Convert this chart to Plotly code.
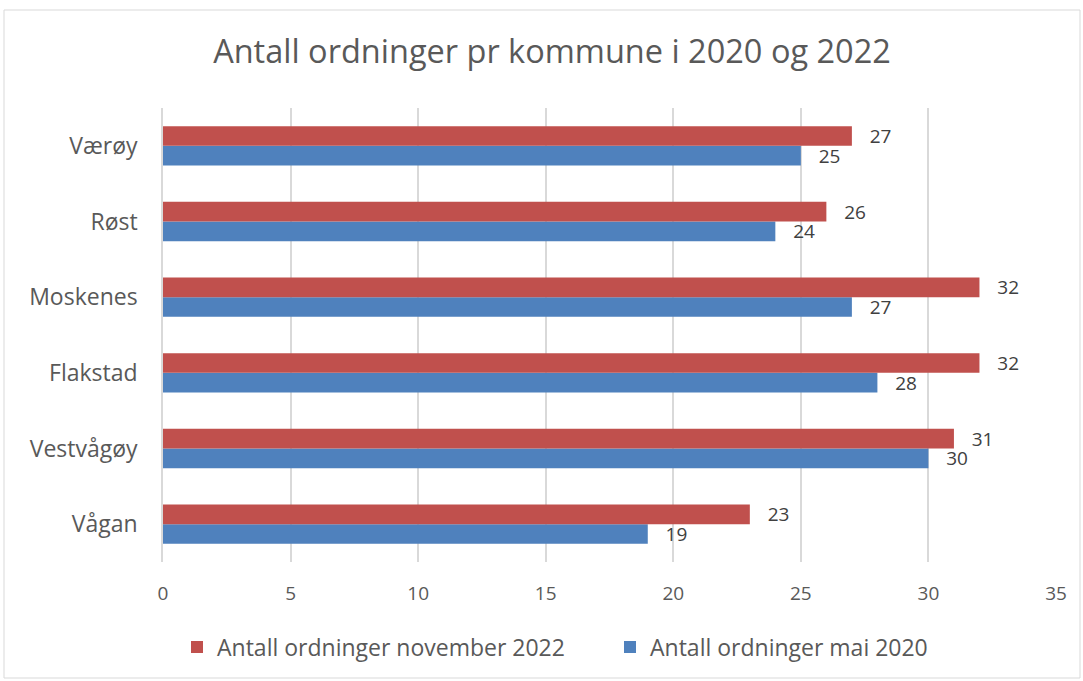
import plotly.graph_objects as go

categories = ["Vågan", "Vestvågøy", "Flakstad", "Moskenes", "Røst", "Værøy"]
mai_2020 = [19, 30, 28, 27, 24, 25]
nov_2022 = [23, 31, 32, 32, 26, 27]
series_names = ["Antall ordninger mai 2020", "Antall ordninger november 2022"]
x_ticks = [0, 5, 10, 15, 20, 25, 30, 35]

W, H = 1083, 681
L, R, T, B = 163, 27, 108, 119
pw, ph = W - L - R, H - T - B

font_family = "Open Sans, Noto Sans, sans-serif"
gray = "#595959"

fig = go.Figure()
for vals, name, color, rank in [(mai_2020, series_names[0], "#4F81BD", 2),
                                (nov_2022, series_names[1], "#C0504D", 1)]:
    fig.add_trace(go.Bar(
        y=categories, x=vals, orientation="h", name=name,
        marker=dict(color=color, line=dict(width=0)),
        texttemplate="\u00a0\u00a0\u00a0%{x}", textposition="outside",
        constraintext="none",
        textfont=dict(size=19, color="#404040", family=font_family),
        cliponaxis=False, legendrank=rank,
    ))

fig.update_layout(
    width=W, height=H,
    margin=dict(l=L, r=R, t=T, b=B, pad=0),
    paper_bgcolor="white", plot_bgcolor="white",
    barmode="group", bargap=0.48, bargroupgap=0,
    font=dict(family=font_family, color=gray),
    title=dict(text="Antall ordninger pr kommune i 2020 og 2022",
               x=552 / W, xref="container", xanchor="center",
               y=1 - 52 / H, yref="container", yanchor="middle",
               font=dict(size=32.5, color=gray, family=font_family)),
    xaxis=dict(range=[0, 35], tickvals=x_ticks, showgrid=True,
               gridcolor="#d9d9d9", gridwidth=1.5, zeroline=False,
               showline=False, ticks="", tickfont=dict(size=19, color=gray),
               ticklabelstandoff=18, fixedrange=True),
    yaxis=dict(categoryorder="array", categoryarray=categories,
               showgrid=False, showline=True, linecolor="#d9d9d9", linewidth=1.5,
               ticks="", tickfont=dict(size=23, color=gray),
               ticklabelstandoff=19, fixedrange=True),
    legend=dict(orientation="h", x=177 / W, xref="container", xanchor="left",
                y=1 - 647 / H, yref="container", yanchor="middle",
                font=dict(size=23, color=gray),
                itemwidth=30, traceorder="normal", entrywidthmode="pixels",
                entrywidth=388),
    showlegend=True,
    shapes=[dict(type="rect", xref="paper", yref="paper",
                 x0=(4 - L) / pw, x1=(1080 - L) / pw,
                 y0=-(678 - (H - B)) / ph, y1=1 + (T - 10) / ph,
                 line=dict(color="#d9d9d9", width=1), layer="below")],
)

fig.write_html("out.html", config={"displayModeBar": False},
               post_script="document.body.style.margin='0';")
